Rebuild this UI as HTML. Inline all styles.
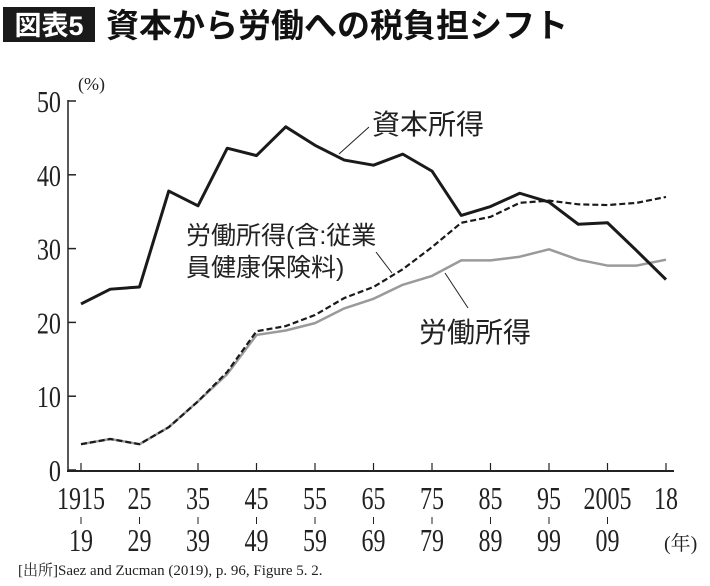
<!DOCTYPE html>
<html><head><meta charset="utf-8">
<style>
body{margin:0;background:#fff;width:710px;height:581px;overflow:hidden;font-family:"Liberation Serif","Noto Serif CJK SC",serif}
</style></head>
<body>
<svg id="c" width="710" height="581" xmlns="http://www.w3.org/2000/svg">
<rect x="3" y="7" width="92" height="35" fill="#1a1a1a"/>
<text x="49" y="35" text-anchor="middle" fill="#fff" font-size="27" font-weight="bold" font-family="Liberation Sans,Noto Sans CJK JP,sans-serif">図表5</text>
<text x="106" y="37" font-size="33" font-weight="bold" fill="#111" font-family="Liberation Sans,Noto Sans CJK JP,sans-serif">資本から労働への税負担シフト</text>
<text x="78" y="90" font-size="18" fill="#222">(%)</text>
<g id="axes"></g>
<g id="series"></g>
<text x="372" y="134" font-size="28" fill="#222" font-family="Liberation Sans,Noto Sans CJK JP,sans-serif">資本所得</text>
<line x1="369" y1="127" x2="339" y2="154" stroke="#222" stroke-width="1"/>
<text x="186" y="244" font-size="25" fill="#222" font-family="Liberation Sans,Noto Sans CJK JP,sans-serif">労働所得(含:従業</text>
<text x="186" y="276" font-size="25" fill="#222" font-family="Liberation Sans,Noto Sans CJK JP,sans-serif">員健康保険料)</text>
<line x1="376" y1="252" x2="392" y2="273" stroke="#222" stroke-width="1"/>
<text x="419" y="342" font-size="28" fill="#222" font-family="Liberation Sans,Noto Sans CJK JP,sans-serif">労働所得</text>
<line x1="445" y1="273" x2="468" y2="308" stroke="#222" stroke-width="1"/>
<text x="664" y="550" font-size="20" fill="#222" font-family="Liberation Serif,Noto Serif CJK SC,serif">(年)</text>
<text x="18" y="575" font-size="15" fill="#222" font-family="Liberation Serif,Noto Serif CJK SC,serif">[出所]Saez and Zucman (2019), p. 96, Figure 5. 2.</text>
</svg>
<script>
const yTicks=[0,10,20,30,40,50];
const xTop=["1915","25","35","45","55","65","75","85","95","2005","18"];
const xBottom=["19","29","39","49","59","69","79","89","99","09",""];
const capital=[22.5,24.5,24.8,37.8,35.8,43.6,42.6,46.5,44,42,41.3,42.8,40.5,34.5,35.7,37.5,36.3,33.3,33.5,29.7,25.8];
const laborIncl=[3.5,4.2,3.5,5.8,9.3,13.3,18.8,19.5,21,23.3,24.8,27.2,30.2,33.5,34.3,36.2,36.5,36,35.9,36.2,37];
const labor=[3.5,4.2,3.5,5.8,9.3,13,18.3,18.9,19.9,21.9,23.2,25.1,26.3,28.4,28.4,28.9,29.9,28.5,27.7,27.7,28.5];
const NS="http://www.w3.org/2000/svg";
const X=i=>81+i*29.25;
const Y=v=>470-v*7.38;
function mk(t,a,p){const e=document.createElementNS(NS,t);for(const k in a)e.setAttribute(k,a[k]);p.appendChild(e);return e;}
const ax=document.getElementById('axes'),se=document.getElementById('series');
let l=mk('line',{x1:68,y1:100,x2:68,y2:471,stroke:'#222','stroke-width':1.5},ax);


l=mk('line',{x1:67,y1:471,x2:674,y2:471,stroke:'#222','stroke-width':2},ax);


yTicks.forEach(v=>{
 const t=mk('line',{x1:68,y1:Y(v),x2:76,y2:Y(v),stroke:'#222','stroke-width':1.5},ax);
 
 
 const tx=mk('text',{x:0,y:0,'font-size':31,fill:'#222','text-anchor':'end',transform:`translate(61,${Y(v)+11}) scale(0.78,1)`},ax);
 tx.textContent=v;
 
 
});
xTop.forEach((s,k)=>{
 const x=X(k*2);
 const t=mk('line',{x1:x,y1:471,x2:x,y2:463,stroke:'#222','stroke-width':1.2},ax);
 
 
 const a=mk('text',{x:0,y:0,'font-size':32,fill:'#222','text-anchor':'middle',transform:`translate(${x},509) scale(0.75,1)`},ax);
 a.textContent=s;
 
 
 if(xBottom[k]){
  const m=mk('line',{x1:x,y1:517,x2:x,y2:524,stroke:'#222','stroke-width':1},ax);
  
  
  const b=mk('text',{x:0,y:0,'font-size':32,fill:'#222','text-anchor':'middle',transform:`translate(${x},551) scale(0.75,1)`},ax);
  b.textContent=xBottom[k];
  
  
 }
});
function line(arr,st,w,dash,name){
 const p=mk('polyline',{points:arr.map((v,i)=>X(i)+','+Y(v)).join(' '),fill:'none',stroke:st,'stroke-width':w,'stroke-linejoin':'round'},se);
 if(dash)p.setAttribute('stroke-dasharray',dash);
 
 
}
line(labor,'#9a9a9a',2.5,null,'line-labor-income');
line(laborIncl,'#1a1a1a',2.2,'6,3','line-labor-incl-insurance');
line(capital,'#1a1a1a',3,null,'line-capital-income');
</script>
</body></html>
